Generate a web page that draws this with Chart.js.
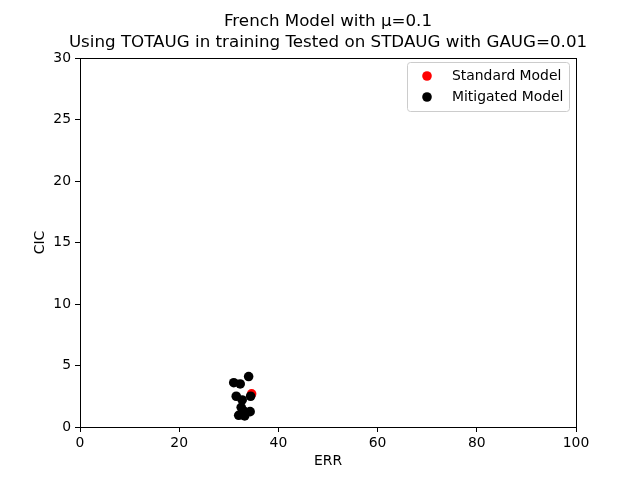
<!DOCTYPE html>
<html><head><meta charset="utf-8">
<script src="https://cdn.jsdelivr.net/npm/chart.js@4/dist/chart.umd.min.js"></script>
<style>html,body{margin:0;padding:0;background:#fff}#w{width:640px;height:480px}</style>
</head><body><div id="w"><canvas id="c" width="640" height="480"></canvas></div>
<script>
const titleLines = ["French Model with \u03bc=0.1", "Using TOTAUG in training Tested on STDAUG with GAUG=0.01"];
const xLabel = "ERR";
const yLabel = "CIC";
const seriesNames = ["Standard Model", "Mitigated Model"];
const seriesColors = ["#ff0000", "#000000"];
const standardErr = [34.6];
const standardCic = [2.7];
const mitigatedErr = [31.0, 32.3, 34.0, 31.5, 32.7, 34.4, 32.5, 33.0, 32.0, 34.3, 33.2, 32.8];
const mitigatedCic = [3.6, 3.5, 4.1, 2.5, 2.2, 2.5, 1.6, 1.3, 0.95, 1.25, 0.9, 1.0];
const xTicks = [0, 20, 40, 60, 80, 100];
const yTicks = [0, 5, 10, 15, 20, 25, 30];

const toPts = (xs, ys) => xs.map((x, i) => ({x: x, y: ys[i]}));
const FONT = "'DejaVu Sans', sans-serif";
const MR = 4.8;

const framePlugin = {
  id: 'frame',
  afterDraw(chart) {
    const ctx = chart.ctx, a = chart.chartArea;
    ctx.save();
    ctx.strokeStyle = '#000'; ctx.lineWidth = 1;
    ctx.strokeRect(Math.round(a.left) + 0.5, Math.round(a.top) + 0.5, Math.round(a.right - a.left), Math.round(a.bottom - a.top));
    // title centred over the plot area
    ctx.fillStyle = '#000';
    ctx.font = "16.7px " + FONT;
    ctx.textAlign = 'center'; ctx.textBaseline = 'middle';
    const cx = (a.left + a.right) / 2;
    titleLines.forEach((t, i) => ctx.fillText(t, cx, 22 + i * 21));
    // legend
    const bx = 407.5, by = 62.5, bw = 162, bh = 49, r = 3;
    ctx.fillStyle = 'rgba(255,255,255,0.8)';
    ctx.strokeStyle = '#cccccc';
    ctx.beginPath();
    ctx.moveTo(bx + r, by); ctx.lineTo(bx + bw - r, by); ctx.arcTo(bx + bw, by, bx + bw, by + r, r);
    ctx.lineTo(bx + bw, by + bh - r); ctx.arcTo(bx + bw, by + bh, bx + bw - r, by + bh, r);
    ctx.lineTo(bx + r, by + bh); ctx.arcTo(bx, by + bh, bx, by + bh - r, r);
    ctx.lineTo(bx, by + r); ctx.arcTo(bx, by, bx + r, by, r);
    ctx.closePath(); ctx.fill(); ctx.stroke();
    ctx.font = "13.9px " + FONT;
    ctx.textBaseline = 'middle'; ctx.textAlign = 'left';
    chart.data.datasets.forEach((ds, i) => {
      const y = 76 + i * 21;
      ctx.fillStyle = ds.backgroundColor;
      ctx.beginPath(); ctx.arc(427, y, MR, 0, Math.PI * 2); ctx.fill();
      ctx.fillStyle = '#000';
      ctx.fillText(ds.label, 452, y);
    });
    ctx.restore();
  }
};

new Chart(document.getElementById('c'), {
  type: 'scatter',
  data: {
    datasets: [
      {label: seriesNames[0], order: 2, data: toPts(standardErr, standardCic), backgroundColor: seriesColors[0], borderWidth: 0, pointRadius: MR, pointHoverRadius: MR},
      {label: seriesNames[1], order: 1, data: toPts(mitigatedErr, mitigatedCic), backgroundColor: seriesColors[1], borderWidth: 0, pointRadius: MR, pointHoverRadius: MR}
    ]
  },
  options: {
    responsive: false, animation: false, devicePixelRatio: 1,
    layout: {padding: {left: 0, right: 64, top: 58, bottom: 0}},
    plugins: {
      legend: {display: false},
      tooltip: {enabled: false},
      title: {display: false}
    },
    scales: {
      x: {
        type: 'linear', min: 0, max: 100,
        afterBuildTicks: s => { s.ticks = xTicks.map(v => ({value: v})); },
        afterFit: s => { s.height = 53; },
        grid: {display: true, drawOnChartArea: false, drawTicks: true, tickLength: 5, color: '#000'},
        border: {display: false},
        ticks: {color: '#000', font: {family: FONT, size: 13.9}, padding: 3},
        title: {display: true, text: xLabel, color: '#000', font: {family: FONT, size: 13.9}, padding: {top: 4, bottom: 10}}
      },
      y: {
        type: 'linear', min: 0, max: 30,
        afterBuildTicks: s => { s.ticks = yTicks.map(v => ({value: v})); },
        afterFit: s => { s.width = 80; },
        grid: {display: true, drawOnChartArea: false, drawTicks: true, tickLength: 5, color: '#000'},
        border: {display: false},
        ticks: {color: '#000', font: {family: FONT, size: 13.9}, padding: 4},
        title: {display: true, text: yLabel, color: '#000', font: {family: FONT, size: 13.9}, padding: {top: 32, bottom: 4}}
      }
    }
  },
  plugins: [framePlugin]
});
</script></body></html>
